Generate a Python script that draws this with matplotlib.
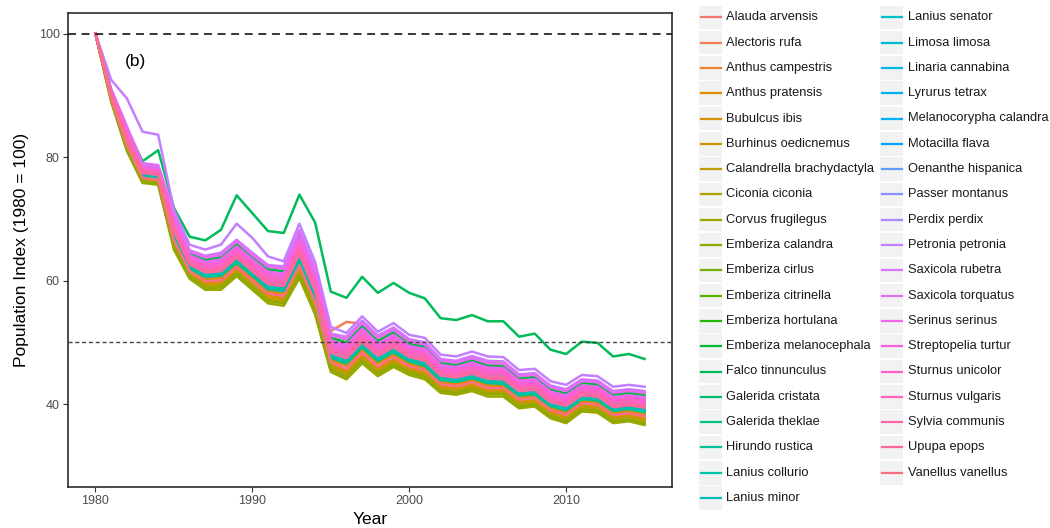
import matplotlib
matplotlib.use("Agg")
import matplotlib.pyplot as plt
from matplotlib.patches import Rectangle
import numpy as np

plt.rcParams["font.family"] = ["Liberation Sans", "DejaVu Sans"]

years = list(range(1980, 2016))

# 物種族群指數 (1980 = 100)
alauda_arvensis = [100, 89.6, 82.2, 76.8, 76.5, 66.9, 61.8, 60.2, 60.4, 62.6, 60.4, 58.2, 57.9, 62.9, 56.9, 47.2, 46.2, 48.8, 46.6, 48.0, 46.5, 45.9, 43.5, 43.2, 43.9, 43.0, 43.0, 41.0, 41.3, 39.4, 38.6, 40.4, 40.2, 38.5, 38.8, 38.3]
alectoris_rufa = [100, 89.5, 82.0, 76.6, 76.3, 66.5, 61.5, 59.9, 60.0, 62.2, 60.0, 57.9, 57.5, 62.4, 56.4, 51.8, 53.3, 53.0, 48.5, 47.6, 46.1, 45.5, 43.2, 42.9, 43.5, 42.6, 42.6, 40.7, 41.0, 39.0, 38.3, 40.1, 39.9, 38.2, 38.5, 38.0]
anthus_campestris = [100, 89.4, 81.8, 76.4, 76.1, 66.1, 61.2, 59.5, 59.6, 61.8, 59.6, 57.5, 57.1, 61.9, 55.9, 46.4, 45.3, 47.9, 45.7, 47.2, 45.8, 45.1, 42.8, 42.5, 43.2, 42.3, 42.3, 40.3, 40.6, 38.7, 37.9, 39.8, 39.6, 37.9, 38.2, 37.6]
anthus_pratensis = [100, 89.6, 82.2, 76.8, 76.5, 66.9, 61.8, 60.2, 60.4, 62.6, 60.4, 58.2, 57.9, 62.9, 56.9, 47.2, 46.2, 48.8, 46.6, 48.0, 46.5, 45.9, 43.5, 43.2, 43.9, 43.0, 43.0, 41.0, 41.3, 39.4, 38.6, 40.4, 40.2, 38.5, 38.8, 38.3]
bubulcus_ibis = [100, 89.4, 81.8, 76.4, 76.1, 66.1, 61.2, 59.5, 59.6, 61.8, 59.6, 57.5, 57.1, 61.9, 55.9, 46.4, 45.3, 47.9, 45.7, 47.2, 45.8, 45.1, 42.8, 42.5, 43.2, 42.3, 42.3, 40.3, 40.6, 38.7, 37.9, 39.8, 39.6, 37.9, 38.2, 37.6]
burhinus_oedicnemus = [100, 89.3, 81.5, 76.2, 75.9, 65.8, 60.9, 59.2, 59.3, 61.4, 59.3, 57.1, 56.7, 61.4, 55.4, 46.0, 44.9, 47.5, 45.3, 46.8, 45.4, 44.8, 42.5, 42.2, 42.8, 41.9, 41.9, 40.0, 40.3, 38.4, 37.6, 39.5, 39.3, 37.6, 37.9, 37.3]
calandrella_brachydactyla = [100, 89.3, 81.5, 76.2, 75.9, 65.8, 60.9, 59.2, 59.3, 61.4, 59.3, 57.1, 56.7, 61.4, 55.4, 46.0, 44.9, 47.5, 45.3, 46.8, 45.4, 44.8, 42.5, 42.2, 42.8, 41.9, 41.9, 40.0, 40.3, 38.4, 37.6, 39.5, 39.3, 37.6, 37.9, 37.3]
ciconia_ciconia = [100, 89.1, 81.2, 76.0, 75.7, 65.4, 60.6, 58.8, 58.9, 61.1, 58.9, 56.7, 56.3, 60.9, 55.0, 45.6, 44.4, 47.0, 44.9, 46.4, 45.1, 44.4, 42.1, 41.8, 42.5, 41.6, 41.6, 39.6, 39.9, 38.0, 37.2, 39.1, 38.9, 37.2, 37.5, 36.9]
corvus_frugilegus = [100, 89.0, 81.0, 75.8, 75.5, 65.0, 60.3, 58.5, 58.5, 60.7, 58.5, 56.3, 55.9, 60.4, 54.5, 45.2, 44.0, 46.6, 44.5, 46.0, 44.7, 44.0, 41.8, 41.5, 42.1, 41.2, 41.2, 39.3, 39.6, 37.7, 36.9, 38.8, 38.6, 36.9, 37.2, 36.6]
emberiza_calandra = [100, 89.1, 81.2, 76.0, 75.7, 65.4, 60.6, 58.8, 58.9, 61.1, 58.9, 56.7, 56.3, 60.9, 55.0, 45.6, 44.4, 47.0, 44.9, 46.4, 45.1, 44.4, 42.1, 41.8, 42.5, 41.6, 41.6, 39.6, 39.9, 38.0, 37.2, 39.1, 38.9, 37.2, 37.5, 36.9]
emberiza_cirlus = [100, 90.9, 84.8, 78.8, 78.5, 70.6, 64.7, 63.7, 64.1, 66.3, 64.1, 62.2, 61.9, 67.8, 61.6, 51.1, 50.5, 53.1, 50.7, 52.0, 50.1, 49.6, 47.0, 46.7, 47.4, 46.6, 46.5, 44.5, 44.7, 42.7, 42.1, 43.7, 43.5, 41.8, 42.1, 41.8]
emberiza_citrinella = [100, 90.5, 84.0, 78.2, 77.9, 69.5, 63.8, 62.6, 63.0, 65.1, 63.0, 61.0, 60.7, 66.3, 60.1, 49.9, 49.2, 51.8, 49.4, 50.8, 49.0, 48.5, 45.9, 45.6, 46.4, 45.5, 45.5, 43.4, 43.7, 41.7, 41.0, 42.7, 42.5, 40.8, 41.1, 40.7]
emberiza_hortulana = [100, 90.1, 83.2, 77.6, 77.3, 68.4, 62.9, 61.6, 61.9, 64.0, 61.9, 59.8, 59.5, 64.8, 58.7, 48.7, 47.9, 50.5, 48.2, 49.6, 47.9, 47.4, 44.9, 44.6, 45.3, 44.4, 44.4, 42.4, 42.7, 40.7, 40.0, 41.7, 41.5, 39.8, 40.1, 39.7]
emberiza_melanocephala = [100, 90.8, 84.5, 78.6, 78.3, 70.2, 64.4, 63.3, 63.8, 65.9, 63.8, 61.8, 61.5, 67.3, 61.1, 50.7, 50.0, 52.6, 50.2, 51.6, 49.7, 49.3, 46.6, 46.3, 47.1, 46.2, 46.2, 44.1, 44.4, 42.3, 41.7, 43.4, 43.2, 41.5, 41.8, 41.4]
falco_tinnunculus = [100, 90.6, 84.6, 79.3, 81.1, 71.8, 67.1, 66.5, 68.2, 73.8, 70.9, 68.0, 67.7, 73.9, 69.4, 58.2, 57.2, 60.6, 58.0, 59.6, 58.0, 57.1, 53.9, 53.6, 54.4, 53.4, 53.4, 50.9, 51.4, 48.8, 48.1, 50.1, 49.9, 47.7, 48.1, 47.3]
galerida_cristata = [100, 89.9, 82.8, 77.2, 76.9, 67.6, 62.3, 60.9, 61.1, 63.3, 61.1, 59.0, 58.7, 63.8, 57.8, 47.9, 47.0, 49.6, 47.4, 48.8, 47.2, 46.6, 44.2, 43.9, 44.6, 43.7, 43.7, 41.7, 42.0, 40.0, 39.3, 41.1, 40.9, 39.2, 39.5, 39.0]
galerida_theklae = [100, 89.8, 82.5, 77.0, 76.7, 67.2, 62.0, 60.6, 60.8, 62.9, 60.8, 58.6, 58.3, 63.3, 57.3, 47.5, 46.6, 49.2, 47.0, 48.4, 46.9, 46.2, 43.9, 43.6, 44.2, 43.4, 43.3, 41.4, 41.6, 39.7, 39.0, 40.8, 40.6, 38.9, 39.2, 38.7]
hirundo_rustica = [100, 89.8, 82.5, 77.0, 76.7, 67.2, 62.0, 60.6, 60.8, 62.9, 60.8, 58.6, 58.3, 63.3, 57.3, 47.5, 46.6, 49.2, 47.0, 48.4, 46.9, 46.2, 43.9, 43.6, 44.2, 43.4, 43.3, 41.4, 41.6, 39.7, 39.0, 40.8, 40.6, 38.9, 39.2, 38.7]
lanius_collurio = [100, 89.9, 82.8, 77.2, 76.9, 67.6, 62.3, 60.9, 61.1, 63.3, 61.1, 59.0, 58.7, 63.8, 57.8, 47.9, 47.0, 49.6, 47.4, 48.8, 47.2, 46.6, 44.2, 43.9, 44.6, 43.7, 43.7, 41.7, 42.0, 40.0, 39.3, 41.1, 40.9, 39.2, 39.5, 39.0]
lanius_minor = [100, 90.4, 83.8, 78.0, 77.7, 69.1, 63.5, 62.3, 62.6, 64.8, 62.6, 60.6, 60.3, 65.8, 59.7, 49.5, 48.7, 51.3, 49.0, 50.4, 48.7, 48.1, 45.6, 45.3, 46.0, 45.2, 45.1, 43.1, 43.3, 41.3, 40.7, 42.4, 42.2, 40.5, 40.8, 40.4]
lanius_senator = [100, 90.1, 83.2, 77.6, 77.3, 68.4, 62.9, 61.6, 61.9, 64.0, 61.9, 59.8, 59.5, 64.8, 58.7, 48.7, 47.9, 50.5, 48.2, 49.6, 47.9, 47.4, 44.9, 44.6, 45.3, 44.4, 44.4, 42.4, 42.7, 40.7, 40.0, 41.7, 41.5, 39.8, 40.1, 39.7]
limosa_limosa = [100, 90.2, 83.5, 77.8, 77.5, 68.8, 63.2, 62.0, 62.2, 64.4, 62.2, 60.2, 59.9, 65.3, 59.2, 49.1, 48.3, 50.9, 48.6, 50.0, 48.3, 47.8, 45.2, 45.0, 45.6, 44.8, 44.8, 42.8, 43.0, 41.0, 40.4, 42.0, 41.9, 40.2, 40.5, 40.0]
linaria_cannabina = [100, 90.0, 83.0, 77.4, 77.1, 68.0, 62.6, 61.3, 61.5, 63.7, 61.5, 59.4, 59.1, 64.3, 58.3, 48.3, 47.4, 50.0, 47.8, 49.2, 47.6, 47.0, 44.6, 44.3, 44.9, 44.1, 44.0, 42.1, 42.3, 40.3, 39.7, 41.4, 41.2, 39.5, 39.8, 39.4]
lyrurus_tetrax = [100, 90.2, 83.5, 77.8, 77.5, 68.8, 63.2, 62.0, 62.2, 64.4, 62.2, 60.2, 59.9, 65.3, 59.2, 49.1, 48.3, 50.9, 48.6, 50.0, 48.3, 47.8, 45.2, 45.0, 45.6, 44.8, 44.8, 42.8, 43.0, 41.0, 40.4, 42.0, 41.9, 40.2, 40.5, 40.0]
melanocorypha_calandra = [100, 90.6, 84.2, 78.4, 78.1, 69.9, 64.1, 63.0, 63.4, 65.5, 63.4, 61.4, 61.1, 66.8, 60.6, 50.3, 49.6, 52.2, 49.8, 51.2, 49.4, 48.9, 46.3, 46.0, 46.7, 45.9, 45.8, 43.8, 44.0, 42.0, 41.4, 43.0, 42.8, 41.1, 41.4, 41.1]
motacilla_flava = [100, 90.0, 83.0, 77.4, 77.1, 68.0, 62.6, 61.3, 61.5, 63.7, 61.5, 59.4, 59.1, 64.3, 58.3, 48.3, 47.4, 50.0, 47.8, 49.2, 47.6, 47.0, 44.6, 44.3, 44.9, 44.1, 44.0, 42.1, 42.3, 40.3, 39.7, 41.4, 41.2, 39.5, 39.8, 39.4]
oenanthe_hispanica = [100, 90.5, 84.0, 78.2, 77.9, 69.5, 63.8, 62.6, 63.0, 65.1, 63.0, 61.0, 60.7, 66.3, 60.1, 49.9, 49.2, 51.8, 49.4, 50.8, 49.0, 48.5, 45.9, 45.6, 46.4, 45.5, 45.5, 43.4, 43.7, 41.7, 41.0, 42.7, 42.5, 40.8, 41.1, 40.7]
passer_montanus = [100, 90.1, 83.2, 77.6, 77.3, 68.4, 62.9, 61.6, 61.9, 64.0, 61.9, 59.8, 59.5, 64.8, 58.7, 48.7, 47.9, 50.5, 48.2, 49.6, 47.9, 47.4, 44.9, 44.6, 45.3, 44.4, 44.4, 42.4, 42.7, 40.7, 40.0, 41.7, 41.5, 39.8, 40.1, 39.7]
perdix_perdix = [100, 90.4, 83.8, 78.0, 77.7, 69.1, 63.5, 62.3, 62.6, 64.8, 62.6, 60.6, 60.3, 65.8, 59.7, 49.5, 48.7, 51.3, 49.0, 50.4, 48.7, 48.1, 45.6, 45.3, 46.0, 45.2, 45.1, 43.1, 43.3, 41.3, 40.7, 42.4, 42.2, 40.5, 40.8, 40.4]
petronia_petronia = [100, 92.5, 89.5, 84.1, 83.6, 71.5, 65.8, 65.0, 65.8, 69.2, 66.9, 63.9, 63.1, 69.2, 63.0, 52.5, 51.5, 54.2, 51.7, 53.1, 51.2, 50.7, 48.0, 47.7, 48.5, 47.7, 47.6, 45.5, 45.7, 43.7, 43.1, 44.7, 44.5, 42.8, 43.1, 42.8]
saxicola_rubetra = [100, 91.0, 85.0, 79.0, 78.7, 71.0, 64.9, 64.0, 64.5, 66.6, 64.5, 62.5, 62.3, 68.2, 62.0, 51.4, 50.9, 53.5, 51.1, 52.4, 50.5, 50.0, 47.3, 47.0, 47.8, 47.0, 46.9, 44.8, 45.0, 43.0, 42.4, 44.0, 43.8, 42.1, 42.4, 42.1]
saxicola_torquatus = [100, 90.9, 84.8, 78.8, 78.5, 70.6, 64.7, 63.7, 64.1, 66.3, 64.1, 62.2, 61.9, 67.8, 61.6, 51.1, 50.5, 53.1, 50.7, 52.0, 50.1, 49.6, 47.0, 46.7, 47.4, 46.6, 46.5, 44.5, 44.7, 42.7, 42.1, 43.7, 43.5, 41.8, 42.1, 41.8]
serinus_serinus = [100, 90.6, 84.2, 78.4, 78.1, 69.9, 64.1, 63.0, 63.4, 65.5, 63.4, 61.4, 61.1, 66.8, 60.6, 50.3, 49.6, 52.2, 49.8, 51.2, 49.4, 48.9, 46.3, 46.0, 46.7, 45.9, 45.8, 43.8, 44.0, 42.0, 41.4, 43.0, 42.8, 41.1, 41.4, 41.1]
streptopelia_turtur = [100, 90.5, 84.0, 78.2, 77.9, 69.5, 63.8, 62.6, 63.0, 65.1, 63.0, 61.0, 60.7, 66.3, 60.1, 49.9, 49.2, 51.8, 49.4, 50.8, 49.0, 48.5, 45.9, 45.6, 46.4, 45.5, 45.5, 43.4, 43.7, 41.7, 41.0, 42.7, 42.5, 40.8, 41.1, 40.7]
sturnus_unicolor = [100, 90.4, 83.8, 78.0, 77.7, 69.1, 63.5, 62.3, 62.6, 64.8, 62.6, 60.6, 60.3, 65.8, 59.7, 49.5, 48.7, 51.3, 49.0, 50.4, 48.7, 48.1, 45.6, 45.3, 46.0, 45.2, 45.1, 43.1, 43.3, 41.3, 40.7, 42.4, 42.2, 40.5, 40.8, 40.4]
sturnus_vulgaris = [100, 90.2, 83.5, 77.8, 77.5, 68.8, 63.2, 62.0, 62.2, 64.4, 62.2, 60.2, 59.9, 65.3, 59.2, 49.1, 48.3, 50.9, 48.6, 50.0, 48.3, 47.8, 45.2, 45.0, 45.6, 44.8, 44.8, 42.8, 43.0, 41.0, 40.4, 42.0, 41.9, 40.2, 40.5, 40.0]
sylvia_communis = [100, 90.1, 83.2, 77.6, 77.3, 68.4, 62.9, 61.6, 61.9, 64.0, 61.9, 59.8, 59.5, 64.8, 58.7, 48.7, 47.9, 50.5, 48.2, 49.6, 47.9, 47.4, 44.9, 44.6, 45.3, 44.4, 44.4, 42.4, 42.7, 40.7, 40.0, 41.7, 41.5, 39.8, 40.1, 39.7]
upupa_epops = [100, 90.0, 83.0, 77.4, 77.1, 68.0, 62.6, 61.3, 61.5, 63.7, 61.5, 59.4, 59.1, 64.3, 58.3, 48.3, 47.4, 50.0, 47.8, 49.2, 47.6, 47.0, 44.6, 44.3, 44.9, 44.1, 44.0, 42.1, 42.3, 40.3, 39.7, 41.4, 41.2, 39.5, 39.8, 39.4]
vanellus_vanellus = [100, 89.5, 82.0, 76.6, 76.3, 66.5, 61.5, 59.9, 60.0, 62.2, 60.0, 57.9, 57.5, 62.4, 56.4, 46.8, 45.7, 48.3, 46.1, 47.6, 46.1, 45.5, 43.2, 42.9, 43.5, 42.6, 42.6, 40.7, 41.0, 39.0, 38.3, 40.1, 39.9, 38.2, 38.5, 38.0]

species = [
    ("Alauda arvensis", alauda_arvensis),
    ("Alectoris rufa", alectoris_rufa),
    ("Anthus campestris", anthus_campestris),
    ("Anthus pratensis", anthus_pratensis),
    ("Bubulcus ibis", bubulcus_ibis),
    ("Burhinus oedicnemus", burhinus_oedicnemus),
    ("Calandrella brachydactyla", calandrella_brachydactyla),
    ("Ciconia ciconia", ciconia_ciconia),
    ("Corvus frugilegus", corvus_frugilegus),
    ("Emberiza calandra", emberiza_calandra),
    ("Emberiza cirlus", emberiza_cirlus),
    ("Emberiza citrinella", emberiza_citrinella),
    ("Emberiza hortulana", emberiza_hortulana),
    ("Emberiza melanocephala", emberiza_melanocephala),
    ("Falco tinnunculus", falco_tinnunculus),
    ("Galerida cristata", galerida_cristata),
    ("Galerida theklae", galerida_theklae),
    ("Hirundo rustica", hirundo_rustica),
    ("Lanius collurio", lanius_collurio),
    ("Lanius minor", lanius_minor),
    ("Lanius senator", lanius_senator),
    ("Limosa limosa", limosa_limosa),
    ("Linaria cannabina", linaria_cannabina),
    ("Lyrurus tetrax", lyrurus_tetrax),
    ("Melanocorypha calandra", melanocorypha_calandra),
    ("Motacilla flava", motacilla_flava),
    ("Oenanthe hispanica", oenanthe_hispanica),
    ("Passer montanus", passer_montanus),
    ("Perdix perdix", perdix_perdix),
    ("Petronia petronia", petronia_petronia),
    ("Saxicola rubetra", saxicola_rubetra),
    ("Saxicola torquatus", saxicola_torquatus),
    ("Serinus serinus", serinus_serinus),
    ("Streptopelia turtur", streptopelia_turtur),
    ("Sturnus unicolor", sturnus_unicolor),
    ("Sturnus vulgaris", sturnus_vulgaris),
    ("Sylvia communis", sylvia_communis),
    ("Upupa epops", upupa_epops),
    ("Vanellus vanellus", vanellus_vanellus),
]


def hcl_colour(h, c=100.0, l=65.0):
    # ggplot2 的色相調色盤 (HCL -> sRGB)
    hr = np.deg2rad(h)
    u, v = c * np.cos(hr), c * np.sin(hr)
    y = ((l + 16) / 116) ** 3
    xn, yn, zn = 0.95047, 1.0, 1.08883
    den = xn + 15 * yn + 3 * zn
    up = u / (13 * l) + 4 * xn / den
    vp = v / (13 * l) + 9 * yn / den
    x = y * 9 * up / (4 * vp)
    z = y * (12 - 3 * up - 20 * vp) / (4 * vp)
    rgb = np.array([
        3.2404542 * x - 1.5371385 * y - 0.4985314 * z,
        -0.9692660 * x + 1.8760108 * y + 0.0415560 * z,
        0.0556434 * x - 0.2040259 * y + 1.0572252 * z,
    ])
    rgb = np.where(rgb <= 0.0031308, 12.92 * rgb, 1.055 * np.abs(rgb) ** (1 / 2.4) - 0.055)
    return tuple(np.clip(rgb, 0, 1))


n = len(species)
colours = [hcl_colour(15 + 360 * i / n) for i in range(n)]

fig = plt.figure(figsize=(10.5, 5.28), dpi=100)
ax = fig.add_axes([68 / 1050, 41 / 528, 604 / 1050, 474 / 528])

for (name, vals), col in zip(species, colours):
    ax.plot(years, vals, color=col, lw=1.8, solid_joinstyle="round")

ax.axhline(100, color="black", lw=1.1, dashes=(5.2, 3.7))
ax.axhline(50, color="#444444", lw=1.0, dashes=(2.9, 2.0))

ax.text(1982.55, 95.4, "(b)", fontsize=12.5, ha="center", va="center")

ax.set_xlim(1978.25, 2016.75)
ax.set_ylim(26.56, 103.32)
ax.set_xticks([1980, 1990, 2000, 2010])
ax.set_yticks([40, 60, 80, 100])
ax.tick_params(direction="out", length=3.5, width=0.8, color="#333333",
               labelcolor="#4D4D4D", labelsize=9, pad=2.5)
for sp in ax.spines.values():
    sp.set_color("#1a1a1a")
    sp.set_linewidth(1.1)

fig.text(22 / 1050, 1 - 250 / 528, "Population Index (1980 = 100)", rotation=90,
         ha="center", va="center", fontsize=12.5)
fig.text(370 / 1050, 1 - 519 / 528, "Year", ha="center", va="center", fontsize=12.5)

# 圖例：兩欄，灰底色塊
lax = fig.add_axes([0, 0, 1, 1])
lax.set_xlim(0, 1050)
lax.set_ylim(528, 0)
lax.axis("off")
rows = 20
for i, ((name, vals), col) in enumerate(zip(species, colours)):
    c, r = divmod(i, rows)
    kx = 699 if c == 0 else 880
    yc = 17.3 + 25.3 * r
    lax.add_patch(Rectangle((kx, yc - 11.8), 23, 23.6, color="#F2F2F2", lw=0))
    lax.plot([kx + 1.5, kx + 21.5], [yc, yc], color=col, lw=1.6)
    lax.text(kx + 27.5, yc, name, fontsize=9.3, ha="left", va="center", color="#1a1a1a")

fig.savefig("out.png", dpi=100)
